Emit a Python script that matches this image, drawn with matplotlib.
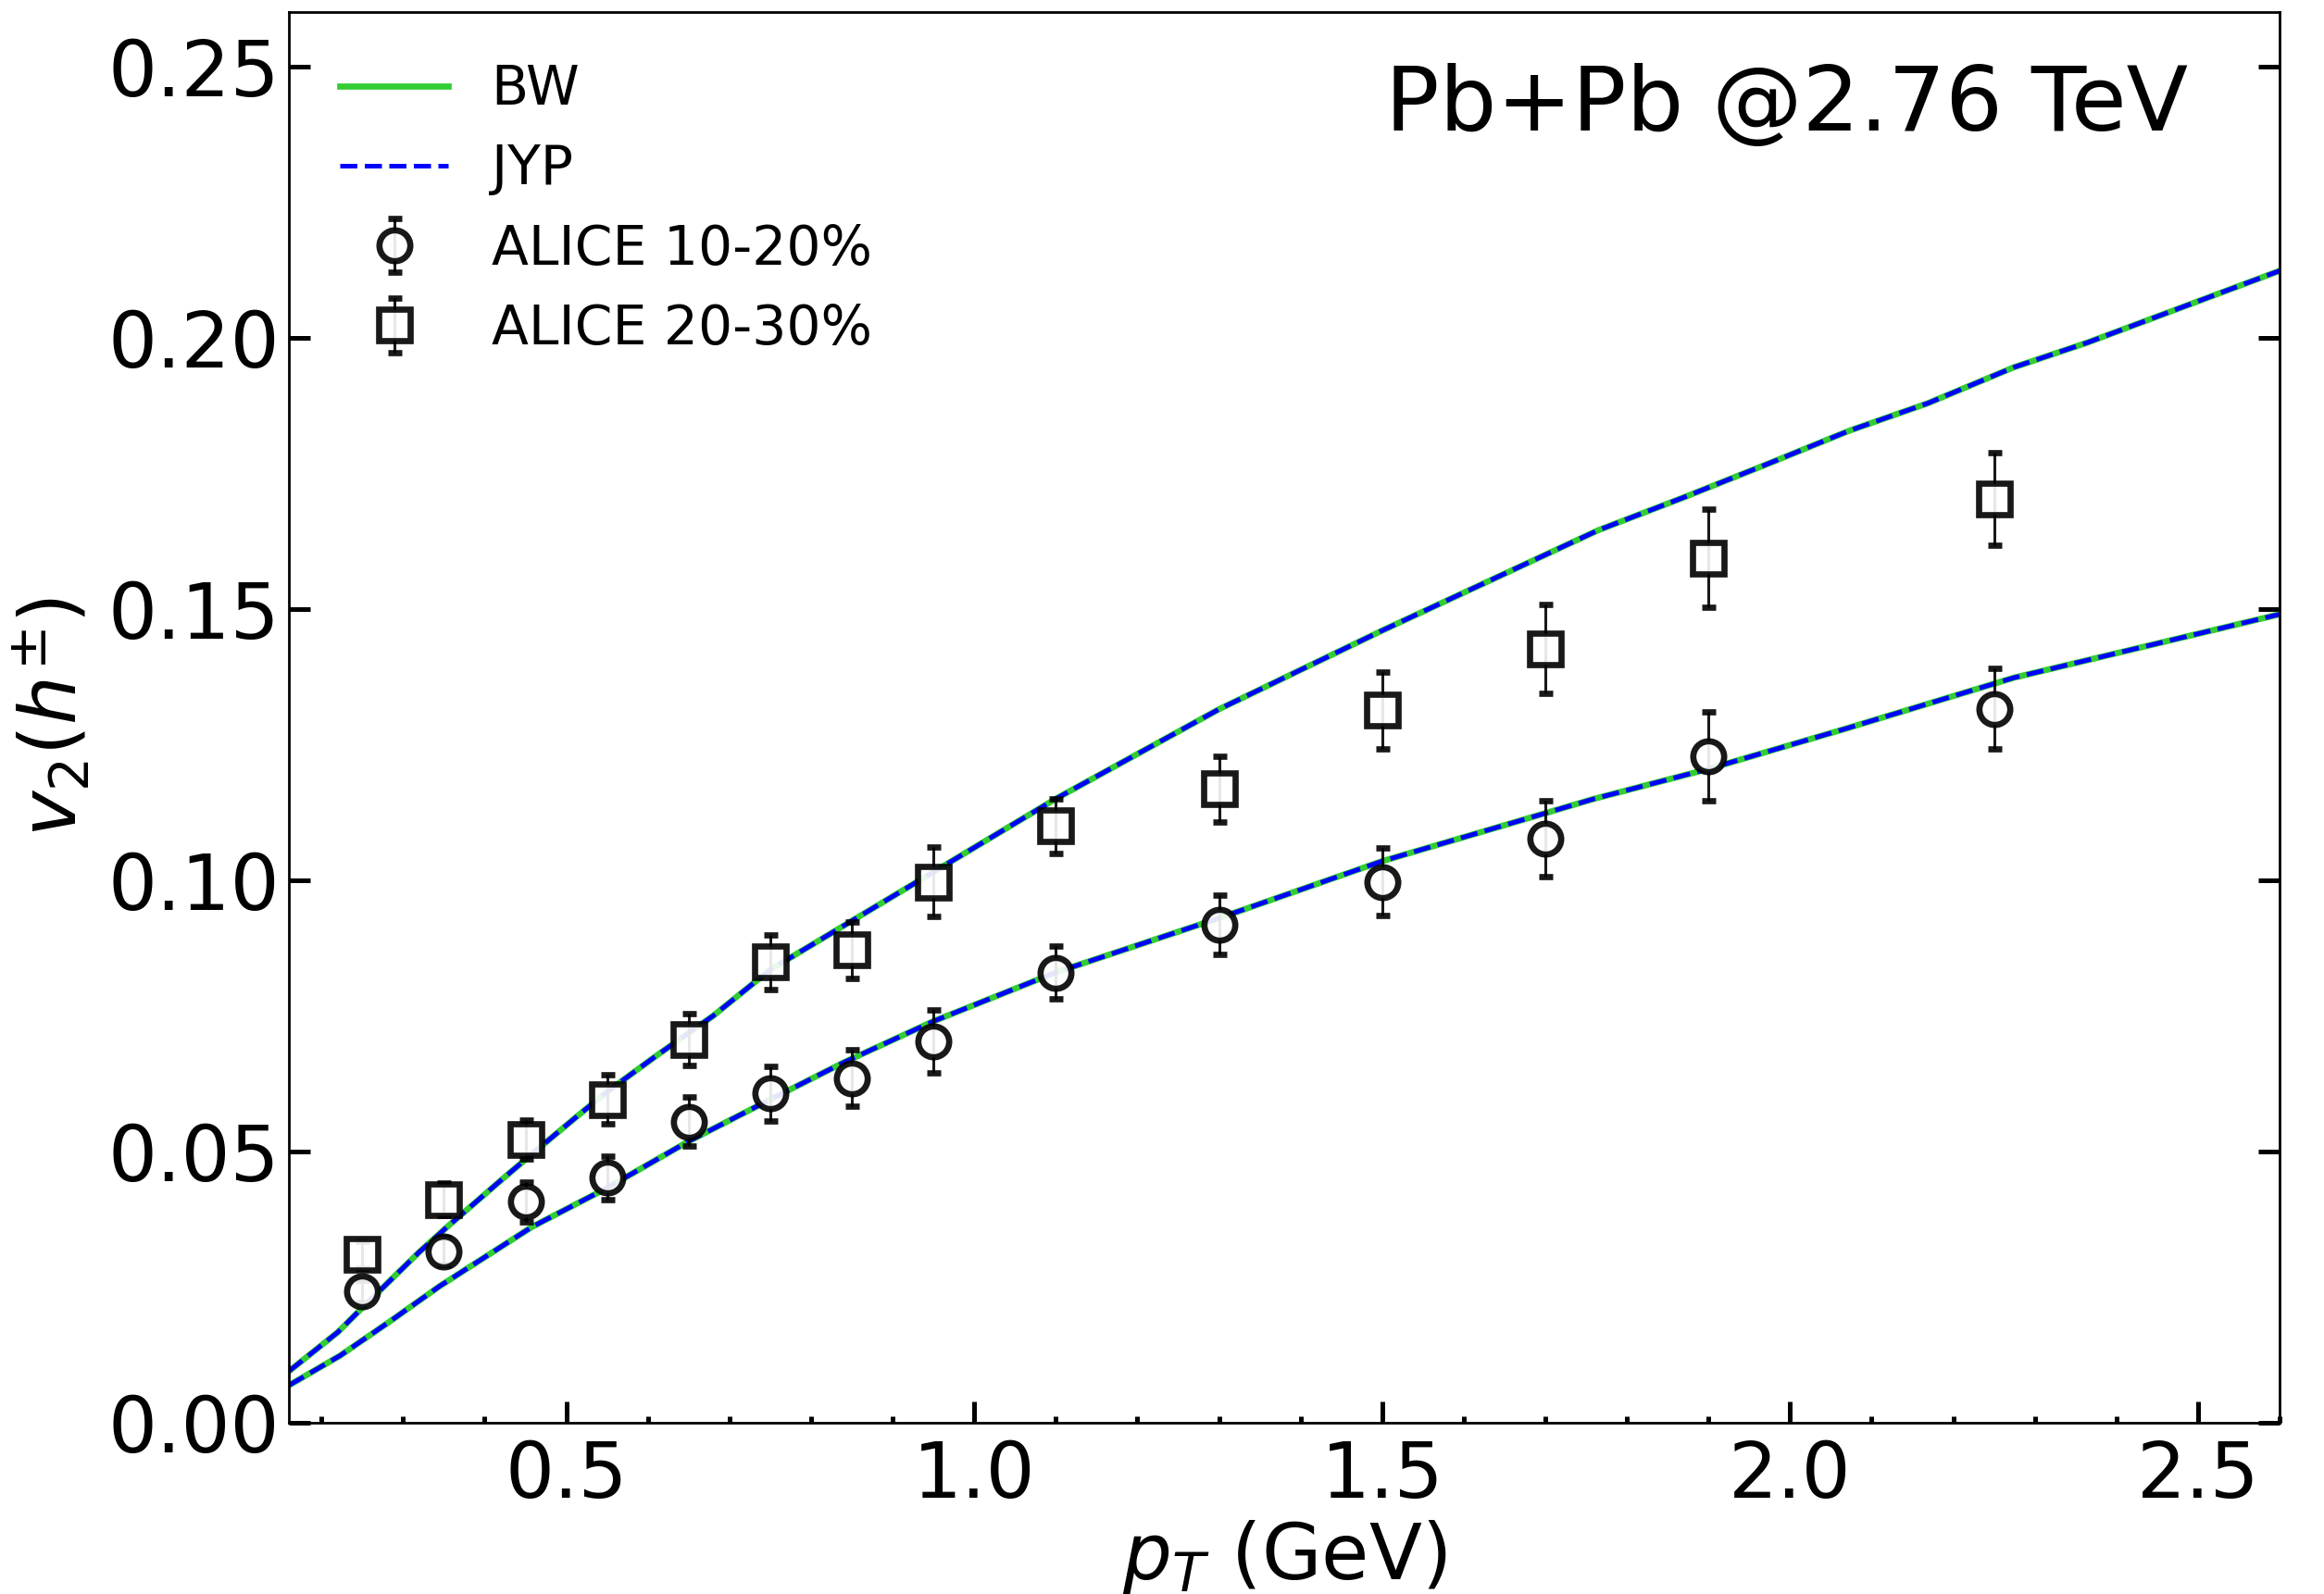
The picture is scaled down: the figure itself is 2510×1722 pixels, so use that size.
import matplotlib
matplotlib.use('Agg')
import matplotlib.pyplot as plt
from matplotlib.ticker import MultipleLocator

# model curves (BW and JYP overlap)
pt_curve_up = [0.16, 0.22, 0.25, 0.32, 0.354, 0.42, 0.46, 0.515, 0.55, 0.61, 0.68,
               0.75, 0.85, 0.95, 1.1, 1.3, 1.5, 1.765, 1.869, 1.974, 2.072, 2.169,
               2.274, 2.365, 2.6]
v2_curve_2030 = [0.0095, 0.0167, 0.0212, 0.0315, 0.0361, 0.0447, 0.0498, 0.0567,
                 0.0610, 0.0676, 0.0750, 0.0835, 0.0925, 0.1015, 0.1150, 0.1315,
                 0.1460, 0.1645, 0.1705, 0.1768, 0.1828, 0.1879, 0.1945, 0.1991,
                 0.2123]
pt_curve_low = [0.16, 0.223, 0.284, 0.345, 0.375, 0.458, 0.549, 0.649, 0.749, 0.84,
                0.95, 1.1, 1.3, 1.5, 1.76, 1.9, 2.07, 2.274, 2.6]
v2_curve_1020 = [0.0069, 0.0124, 0.0187, 0.0252, 0.0281, 0.0361, 0.0432, 0.0518,
                 0.0595, 0.0664, 0.0740, 0.0830, 0.0930, 0.1035, 0.1150, 0.1205,
                 0.1280, 0.1373, 0.1490]

# ALICE data
pt_data = [0.25, 0.35, 0.45, 0.55, 0.65, 0.75, 0.85, 0.95, 1.1, 1.3, 1.5, 1.7, 1.9, 2.25]
v2_1020 = [0.0242, 0.0316, 0.0407, 0.0452, 0.0555, 0.0607, 0.0635, 0.0703,
           0.0830, 0.0918, 0.0997, 0.1077, 0.1228, 0.1316]
err_1020 = [0.0020, 0.0025, 0.0036, 0.0040, 0.0045, 0.0050, 0.0052, 0.0058,
            0.0048, 0.0055, 0.0062, 0.0070, 0.0082, 0.0074]
v2_2030 = [0.0310, 0.0412, 0.0522, 0.0596, 0.0706, 0.0849, 0.0871, 0.0997,
           0.1100, 0.1168, 0.1313, 0.1426, 0.1593, 0.1703]
err_2030 = [0.0025, 0.0030, 0.0036, 0.0045, 0.0048, 0.0050, 0.0052, 0.0064,
            0.0050, 0.0060, 0.0071, 0.0082, 0.0090, 0.0085]

fig = plt.figure(figsize=(12.55, 8.61), dpi=200)
ax = fig.add_axes([0.1243, 0.1074, 0.8566, 0.8851])

green = '#32cd32'
ax.plot(pt_curve_up, v2_curve_2030, color=green, lw=2.4, label='BW')
ax.plot(pt_curve_up, v2_curve_2030, color='blue', lw=1.8, ls='--', label='JYP')
ax.plot(pt_curve_low, v2_curve_1020, color=green, lw=2.4)
ax.plot(pt_curve_low, v2_curve_1020, color='blue', lw=1.8, ls='--')

ax.errorbar(pt_data, v2_1020, yerr=err_1020, fmt='o', color='black', mfc='white',
            mec='black', ms=12, mew=2.4, elinewidth=1.1, capsize=2.7, capthick=2.2,
            alpha=0.9, label='ALICE 10-20%')
ax.errorbar(pt_data, v2_2030, yerr=err_2030, fmt='s', color='black', mfc='white',
            mec='black', ms=12, mew=2.4, elinewidth=1.1, capsize=2.7, capthick=2.2,
            alpha=0.9, label='ALICE 20-30%')

ax.set_xlim(0.16, 2.6)
ax.set_ylim(0, 0.26)
ax.xaxis.set_major_locator(MultipleLocator(0.5))
ax.xaxis.set_minor_locator(MultipleLocator(0.1))
ax.yaxis.set_major_locator(MultipleLocator(0.05))
ax.tick_params(axis='both', which='major', direction='in', length=8.3, width=1.8,
               labelsize=30)
ax.tick_params(axis='x', which='major', pad=6)
ax.tick_params(axis='y', which='major', pad=3.5, right=True)
ax.tick_params(axis='x', which='minor', direction='in', length=2.7, width=1.8)
for s in ax.spines.values():
    s.set_linewidth(1.0)

ax.set_xlabel('$p_T$ (GeV)', fontsize=30, labelpad=2)
ax.set_ylabel('$v_2(h^{\\pm})$', fontsize=30, labelpad=6)

ax.text(0.954, 0.916, 'Pb+Pb @2.76 TeV', transform=ax.transAxes, ha='right',
        va='baseline', fontsize=35)

ax.legend(loc='upper left', frameon=False, fontsize=21, labelspacing=0.5,
          handlelength=2.0, borderaxespad=0.55)

fig.savefig('out.png', dpi=200)
